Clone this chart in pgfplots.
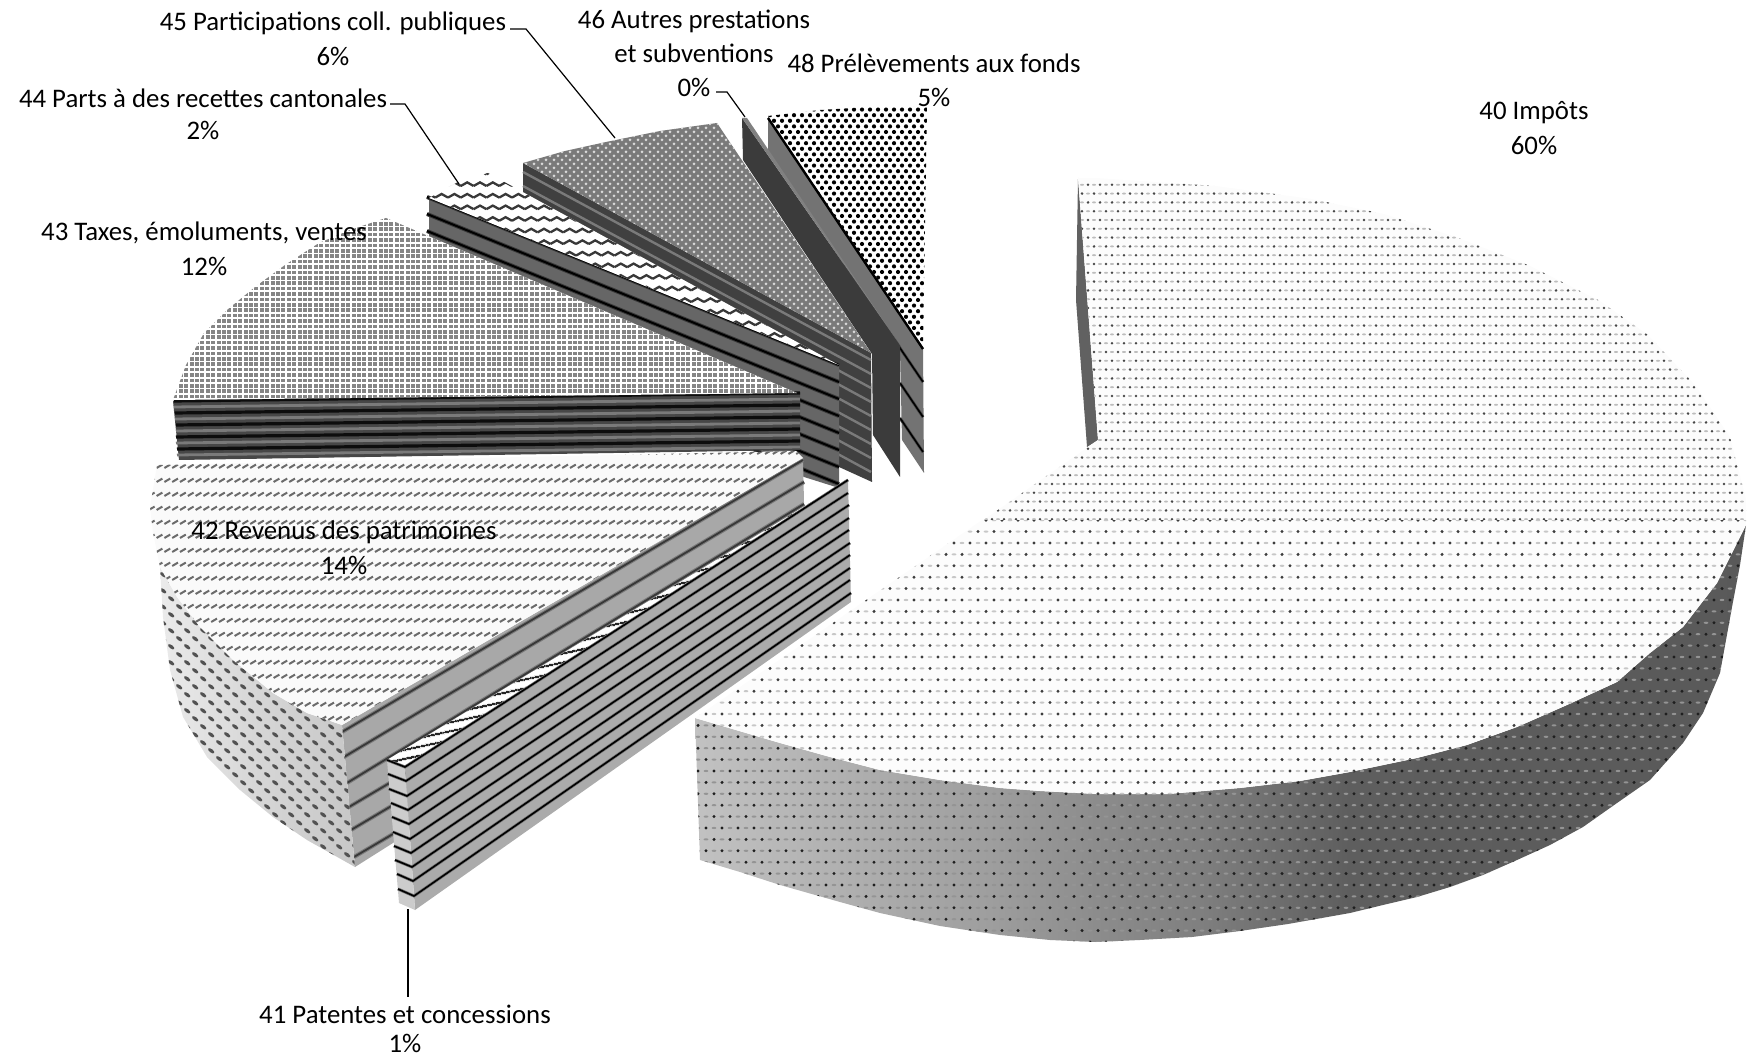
\documentclass[border=0pt]{standalone}
\usepackage{fontspec}
\setmainfont{Carlito}
\usepackage{pgfplots}
\usepackage{pgfplotstable}
\pgfplotsset{compat=1.18}
\usetikzlibrary{patterns,patterns.meta}

% 1 px of the reference = 0.5pt
% far part of slice 40
\pgfdeclarepatternformonly{dotsdark}{\pgfqpoint{-1pt}{-1pt}}{\pgfqpoint{7pt}{10pt}}{\pgfqpoint{6pt}{8.8pt}}{
  \pgfpathcircle{\pgfqpoint{1pt}{1pt}}{0.7pt}
  \pgfpathcircle{\pgfqpoint{4pt}{5.4pt}}{0.7pt}
  \pgfusepath{fill}}
\pgfdeclarepatternformonly{dotslight}{\pgfqpoint{-1pt}{-1pt}}{\pgfqpoint{7pt}{10pt}}{\pgfqpoint{6pt}{8.8pt}}{
  \pgfpathellipse{\pgfqpoint{4pt}{1pt}}{\pgfqpoint{1pt}{0pt}}{\pgfqpoint{0pt}{0.5pt}}
  \pgfpathellipse{\pgfqpoint{1pt}{5.4pt}}{\pgfqpoint{1pt}{0pt}}{\pgfqpoint{0pt}{0.5pt}}
  \pgfusepath{fill}}
% near part of slice 40 and its outer wall
\pgfdeclarepatternformonly{neardark}{\pgfqpoint{-1pt}{-1pt}}{\pgfqpoint{9pt}{13pt}}{\pgfqpoint{8pt}{11.4pt}}{
  \pgfpathcircle{\pgfqpoint{1pt}{1pt}}{0.82pt}
  \pgfpathcircle{\pgfqpoint{5pt}{6.7pt}}{0.82pt}
  \pgfusepath{fill}}
\pgfdeclarepatternformonly{nearlight}{\pgfqpoint{-1pt}{-1pt}}{\pgfqpoint{9pt}{13pt}}{\pgfqpoint{8pt}{11.4pt}}{
  \pgfpathellipse{\pgfqpoint{5pt}{1pt}}{\pgfqpoint{1.2pt}{0pt}}{\pgfqpoint{0pt}{0.55pt}}
  \pgfpathellipse{\pgfqpoint{1pt}{6.7pt}}{\pgfqpoint{1.2pt}{0pt}}{\pgfqpoint{0pt}{0.55pt}}
  \pgfusepath{fill}}
\pgfdeclarepatternformonly{gridmesh}{\pgfqpoint{-1pt}{-1pt}}{\pgfqpoint{4pt}{4pt}}{\pgfqpoint{2.7pt}{2.7pt}}{
  \pgfpathrectangle{\pgfqpoint{0.3pt}{0.4pt}}{\pgfqpoint{1.95pt}{1.75pt}}
  \pgfusepath{fill}}
\pgfdeclarepatternformonly{finemesh}{\pgfqpoint{-1pt}{-1pt}}{\pgfqpoint{5pt}{5pt}}{\pgfqpoint{4pt}{4pt}}{
  \pgfpathcircle{\pgfqpoint{1pt}{1pt}}{0.75pt}
  \pgfpathcircle{\pgfqpoint{3pt}{3pt}}{0.75pt}
  \pgfusepath{fill}}
\pgfdeclarepatternformonly{blackdots}{\pgfqpoint{-2pt}{-2pt}}{\pgfqpoint{6pt}{7pt}}{\pgfqpoint{4pt}{5.6pt}}{
  \pgfpathcircle{\pgfqpoint{1pt}{1pt}}{1.05pt}
  \pgfpathcircle{\pgfqpoint{3pt}{3.8pt}}{1.05pt}
  \pgfusepath{fill}}
\pgfdeclarepatternformonly{zigzag}{\pgfqpoint{-1pt}{-1pt}}{\pgfqpoint{8pt}{8pt}}{\pgfqpoint{6.4pt}{5.8pt}}{
  \pgfsetlinewidth{1.15pt}
  \pgfpathmoveto{\pgfqpoint{0pt}{1pt}}
  \pgfpathlineto{\pgfqpoint{3.2pt}{2.8pt}}
  \pgfpathlineto{\pgfqpoint{6.4pt}{1pt}}
  \pgfusepath{stroke}}
\pgfdeclarepatternformonly{dashrows}{\pgfqpoint{-1pt}{-1pt}}{\pgfqpoint{6pt}{9pt}}{\pgfqpoint{3.9pt}{7pt}}{
  \pgfsetlinewidth{1pt}
  \pgfpathmoveto{\pgfqpoint{0.3pt}{1pt}}
  \pgfpathlineto{\pgfqpoint{3.2pt}{2.7pt}}
  \pgfusepath{stroke}}
\pgfdeclarepatternformonly{walldots}{\pgfqpoint{-1pt}{-1pt}}{\pgfqpoint{10pt}{10pt}}{\pgfqpoint{8pt}{8pt}}{
  \pgfpathellipse{\pgfqpoint{1.6pt}{1.6pt}}{\pgfqpoint{1.5pt}{-1.1pt}}{\pgfqpoint{0.5pt}{0.7pt}}
  \pgfpathellipse{\pgfqpoint{5.6pt}{5.6pt}}{\pgfqpoint{1.5pt}{-1.1pt}}{\pgfqpoint{0.5pt}{0.7pt}}
  \pgfusepath{fill}}

\pgfdeclarehorizontalshading{walla}{100bp}{
  rgb(0bp)=(0.76,0.76,0.76);
  rgb(25bp)=(0.76,0.76,0.76);
  rgb(39bp)=(0.62,0.62,0.62);
  rgb(44bp)=(0.55,0.55,0.55);
  rgb(49bp)=(0.50,0.50,0.50);
  rgb(56bp)=(0.37,0.37,0.37);
  rgb(75bp)=(0.35,0.35,0.35);
  rgb(100bp)=(0.35,0.35,0.35)}
\pgfdeclarehorizontalshading{wallb}{100bp}{
  rgb(0bp)=(0.92,0.92,0.92);
  rgb(25bp)=(0.92,0.92,0.92);
  rgb(50bp)=(0.84,0.84,0.84);
  rgb(75bp)=(0.78,0.78,0.78);
  rgb(100bp)=(0.78,0.78,0.78)}

% outlines of the two curved outer walls
\pgfplotstableread{
x y
695 718
780 743
830 757
880 770
940 780
1000 788
1040 791
1096 794
1168 794
1240 788
1300 781
1350 772
1417 758
1467 745
1517 727
1567 705
1617 682
1650 653
1683 627
1717 583
1746 525
1740 565
1732 607
1720 673
1703 713
1683 743
1650 780
1617 803
1583 827
1550 845
1517 860
1483 875
1450 887
1417 897
1383 905
1350 913
1288 924
1240 931
1192 937
1140 940
1096 942
1050 940
1000 935
940 926
880 913
840 902
780 885
740 872
700 860
}\wallforty
\pgfplotstableread{
x y
160 567
177 597
200 627
233 660
273 693
307 713
342 725
355 867
307 840
273 817
240 790
207 757
183 717
170 670
163 617
}\wallfortytwo

% stripes on the flat walls
\pgfplotstableread{
x y
387 760
405 767
848 480
nan nan
388 774
406 781
848 493
nan nan
389 789
407 796
849 505
nan nan
391 803
408 810
849 518
nan nan
392 817
409 824
849 530
nan nan
393 832
410 839
850 543
nan nan
394 846
411 853
850 555
nan nan
395 860
412 867
850 568
nan nan
397 874
413 881
850 580
nan nan
398 889
414 896
851 593
}\stripesfortyone
\pgfplotstableread{
x y
342 732
803 460
nan nan
344 757
804 482
nan nan
347 783
804 504
nan nan
349 807
420 765
nan nan
351 830
420 789
nan nan
354 857
420 818
}\stripesfortytwo
\pgfplotstableread{
x y
174 401
800 393
nan nan
175 413
800 405
nan nan
176 425
800 417
nan nan
176 437
800 429
nan nan
177 449
800 441
}\darkfortythree
\pgfplotstableread{
x y
174 407
800 399
nan nan
175 419
800 411
nan nan
176 431
800 423
nan nan
176 443
800 435
nan nan
177 455
800 447
}\lightfortythree
\pgfplotstableread{
x y
427 197
839 365
nan nan
427 214
839 382
nan nan
427 231
839 399
nan nan
427 248
839 416
nan nan
600 336
839 433
nan nan
600 353
839 450
nan nan
600 370
839 467
nan nan
600 387
839 484
}\stripesfortyfour
\pgfplotstableread{
x y
523 172
871 360
nan nan
523 186
871 374
nan nan
600 241
871 388
nan nan
600 255
871 402
nan nan
600 269
871 416
nan nan
600 283
871 430
nan nan
600 297
871 444
nan nan
600 311
871 458
nan nan
600 325
871 472
}\stripesfortyfive
\pgfplotstableread{
x y
843 264
923 382
nan nan
900 383
923 417
nan nan
900 418
923 452
}\stripesfortyeight

\tikzset{
  lab/.style={font=\fontsize{13.4}{15}\selectfont, text=black, inner sep=0pt, align=center},
  leader/.style={black, line width=0.6pt},
}

\begin{document}
\begin{tikzpicture}
\begin{axis}[
  scale only axis,
  width=874.5pt,
  height=529pt,
  xmin=0, xmax=1749,
  ymin=0, ymax=1058,
  y dir=reverse,
  axis line style={draw=none},
  xtick=\empty, ytick=\empty,
  clip=false,
  no markers,
  unbounded coords=jump,
]
% 40 Impots: inner wall
\addplot[draw=none, fill=black!62] coordinates {(1078,178) (1076,300) (1087,447) (1098,440)} --cycle;
% 40 Impots: outer wall
\addplot[draw=none, shade, shading=walla] table {\wallforty};
\addplot[draw=none, pattern=nearlight, pattern color=black!42] table {\wallforty};
\addplot[draw=none, pattern=neardark, pattern color=black!88] table {\wallforty};
% 40 Impots: top, far part
\addplot[draw=none, fill=white!99!black,
  postaction={pattern=dotslight, pattern color=black!26},
  postaction={pattern=dotsdark, pattern color=black!72}]
  coordinates {(1078,178) (1096,178) (1216,186) (1312,199) (1384,214) (1456,237) (1528,265) (1600,301)
    (1648,335) (1696,386) (1730,437) (1746,499) (1746,521) (982,521) (1098,440)} --cycle;
% 40 Impots: top, near part
\addplot[draw=none, fill=white!99!black,
  postaction={pattern=nearlight, pattern color=black!22},
  postaction={pattern=neardark, pattern color=black!76}]
  coordinates {(982,520) (1746,520) (1746,525) (1717,583) (1683,627) (1650,653)
    (1617,682) (1567,705) (1517,727) (1467,745) (1417,758) (1350,772) (1300,781) (1240,788)
    (1168,794) (1096,794) (1040,791) (1000,788) (940,780) (880,770) (830,757) (780,743) (695,718)} --cycle;

% 48 Prelevements aux fonds
\addplot[draw=none, fill=black!55]
  coordinates {(768,116) (923,347) (924,473) (902,440) (900,350) (768,150)} --cycle;
\addplot[black!70, line width=1.5pt] table {\stripesfortyeight};
\addplot[black, line width=0.8pt] table {\stripesfortyeight};
\addplot[draw=none, fill=white, postaction={pattern=blackdots, pattern color=black}]
  coordinates {(768,116) (820,110) (870,107) (927,106) (923,347)} --cycle;
\addplot[black, line width=1.2pt] coordinates {(768,118) (923,349)};
% 46 Autres prestations et subventions
\addplot[draw=none, fill=black!77]
  coordinates {(742,118) (743,160) (872,354) (873,435) (900,477) (900,345)} --cycle;
\addplot[draw=none, fill=black!50]
  coordinates {(742,118) (747,118) (900,345)} --cycle;
% 45 Participations coll. publiques
\addplot[draw=none, fill=black!75]
  coordinates {(523,163) (871,353) (872,482) (839,467) (523,198)} --cycle;
\addplot[black!52, line width=1.2pt] table {\stripesfortyfive};
\addplot[draw=none, fill=black!52, postaction={pattern=finemesh, pattern color=white!85!black}]
  coordinates {(523,163) (565,151) (606,142) (660,131) (717,123) (871,353)} --cycle;
% 44 Parts a des recettes cantonales
\addplot[draw=none, fill=black!60]
  coordinates {(429,198) (839,365) (839,488) (804,477) (429,237)} --cycle;
\addplot[black!78, line width=2pt] table {\stripesfortyfour};
\addplot[black, line width=1pt] table {\stripesfortyfour};
\addplot[draw=none, fill=white, postaction={pattern=zigzag, pattern color=black!78}]
  coordinates {(429,198) (458,182) (488,173) (839,365)} --cycle;
% 43 Taxes, emoluments, ventes
\addplot[draw=none, fill=black!72]
  coordinates {(173,401) (800,393) (800,450) (179,460)} --cycle;
\addplot[black!52, line width=1.4pt] table {\lightfortythree};
\addplot[black!95, line width=1.6pt] table {\darkfortythree};
\addplot[draw=none, fill=white, postaction={pattern=gridmesh, pattern color=black!48}]
  coordinates {(386,218) (350,230) (319,243) (285,265) (255,287) (227,310) (204,333) (186,365) (173,400) (797,393)} --cycle;
% 42 Revenus des patrimoines
\addplot[draw=none, fill=black!34]
  coordinates {(342,725) (803,458) (804,503) (393,843) (355,867)} --cycle;
\addplot[black!52, line width=2pt] table {\stripesfortytwo};
\addplot[black!78, line width=0.9pt] table {\stripesfortytwo};
\addplot[draw=none, shade, shading=wallb] table {\wallfortytwo};
\addplot[draw=none, pattern=walldots, pattern color=black!68] table {\wallfortytwo};
\addplot[draw=none, fill=white!98!black, postaction={pattern=dashrows, pattern color=black!58}]
  coordinates {(157,465) (150,507) (153,533) (160,567) (177,597) (200,627) (233,660) (273,693) (307,713) (342,725) (803,458) (796,451)} --cycle;
% 41 Patentes et concessions
\addplot[draw=none, fill=black!33]
  coordinates {(405,767) (848,480) (851,602) (415,910)} --cycle;
\addplot[draw=none, fill=black!20]
  coordinates {(387,760) (405,767) (415,910) (399,903)} --cycle;
\addplot[draw=none, fill=white,
  postaction={pattern={Lines[angle=12,distance=4pt,line width=1.1pt]}, pattern color=black!85}]
  coordinates {(387,760) (405,767) (848,480)} --cycle;
\addplot[black!55, line width=1.5pt] table {\stripesfortyone};
\addplot[black, line width=0.8pt] table {\stripesfortyone};

% leader lines
\addplot[leader] coordinates {(510,29) (526,29) (615,138)};
\addplot[leader] coordinates {(716,92) (727,92) (745,117)};
\addplot[leader] coordinates {(390,104) (405,104) (459,184)};
\addplot[leader] coordinates {(408,909) (408,997)};

% labels
\node[lab] at (axis cs:1534,113) {40 Impôts};
\node[lab] at (axis cs:1534,145) {60\%};
\node[lab] at (axis cs:405,1014) {41 Patentes et concessions};
\node[lab] at (axis cs:405,1043) {1\%};
\node[lab] at (axis cs:344,532) {42 Revenus des patrimoines};
\node[lab] at (axis cs:344,565) {14\%};
\node[lab] at (axis cs:204,233) {43 Taxes, émoluments, ventes};
\node[lab] at (axis cs:204,266) {12\%};
\node[lab] at (axis cs:203,98) {44 Parts à des recettes cantonales};
\node[lab] at (axis cs:203,130) {2\%};
\node[lab] at (axis cs:333,23) {45 Participations coll. publiques};
\node[lab] at (axis cs:333,56) {6\%};
\node[lab] at (axis cs:694,21) {46 Autres prestations};
\node[lab] at (axis cs:694,53) {et subventions};
\node[lab] at (axis cs:694,87) {0\%};
\node[lab] at (axis cs:934,63) {48 Prélèvements aux fonds};
\node[lab] at (axis cs:934,97) {5\%};
\end{axis}
\end{tikzpicture}
\end{document}
